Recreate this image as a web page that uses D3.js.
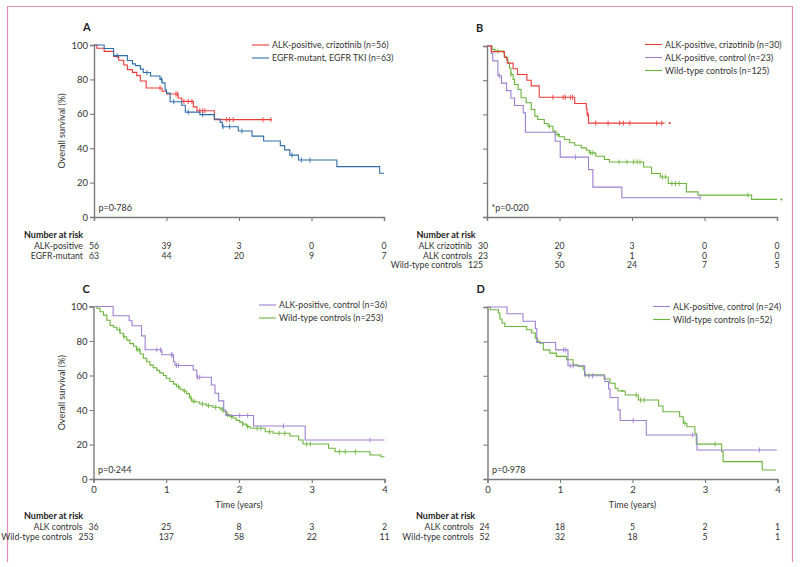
<!DOCTYPE html>
<html><head><meta charset="utf-8">
<script src="https://cdn.jsdelivr.net/npm/d3@7"></script>
<style>
body{margin:0;background:#fff;}
svg text{font-family:Lato,"Open Sans",sans-serif;fill:#333;}
</style></head><body>
<svg id="c" width="800" height="567"></svg>
<script>
// ---------- DATA (time in years, survival in %) ----------
const timeTicks = [0, 1, 2, 3, 4];
const survTicks = [0, 20, 40, 60, 80, 100];

// Panel A
const A_alkCriz = [[0,100],[0.04,98.1],[0.14,96.3],[0.27,93.4],[0.34,91.1],[0.41,88.4],[0.46,85.7],[0.53,84.1],[0.59,82.2],[0.64,79.1],[0.72,75.0],[0.94,73.1],[1.00,71.5],[1.16,69.2],[1.21,67.2],[1.37,64.0],[1.42,61.8],[1.66,56.6]];
const A_alkCrizEnd = 2.45;
const A_alkCrizCens = [0.91,1.13,1.15,1.24,1.30,1.35,1.46,1.50,1.53,1.83,1.87,1.92,2.33,2.44];
const A_egfr = [[0,100],[0.14,98],[0.27,93.8],[0.46,91],[0.53,89],[0.57,88],[0.64,86],[0.68,84],[0.78,82],[0.91,80],[0.94,78],[0.98,74],[1.00,72],[1.05,67],[1.21,65],[1.26,61],[1.46,59.5],[1.66,57],[1.74,55],[1.77,52.5],[1.99,50],[2.18,47],[2.34,44.2],[2.57,41.5],[2.63,39],[2.70,36],[2.82,33.1],[3.35,29.3],[3.94,25.4]];
const A_egfrEnd = 4.0;
const A_egfrCens = [0.32,0.73,0.93,1.10,1.30,1.50,1.78,1.87,2.04,2.73,2.86,2.98];

// Panel B
const B_alkCriz = [[0,100],[0.06,96.7],[0.24,93.3],[0.28,90],[0.36,86.7],[0.42,83.3],[0.55,80],[0.61,76.7],[0.72,70],[1.21,66.4],[1.37,63.3],[1.38,60],[1.40,54.9]];
const B_alkCrizEnd = 2.45;
const B_alkCrizCens = [0.91,1.05,1.08,1.15,1.18,1.39,1.50,1.67,1.83,1.88,1.97,2.34,2.41];
const B_alkCrizDot = [2.52];
const B_alkCtrl = [[0,100],[0.06,95.7],[0.08,91.3],[0.15,82.6],[0.20,78.3],[0.27,73.9],[0.33,69.6],[0.38,65.2],[0.50,60.9],[0.53,49.6],[0.94,44.3],[1.01,35],[1.40,27.7],[1.46,17.5],[1.86,11.3]];
const B_alkCtrlEnd = 2.94;
const B_alkCtrlCens = [0.17,1.22,2.94];
const B_wild = [[0,100],[0.07,98],[0.11,97],[0.23,96],[0.24,94],[0.27,92],[0.29,90],[0.31,87],[0.33,83.4],[0.36,80.5],[0.38,77.5],[0.43,74.6],[0.47,69.7],[0.54,66.8],[0.61,62.9],[0.66,59],[0.70,57],[0.79,54.7],[0.84,53.1],[0.91,50.2],[0.95,48.2],[1.00,46.9],[1.07,45.3],[1.14,43.4],[1.21,42],[1.30,40.4],[1.37,39],[1.41,37.5],[1.50,35.5],[1.62,33.6],[1.69,32.2],[2.16,29.2],[2.27,25.4],[2.39,23.4],[2.50,19.6],[2.75,14.7],[2.91,12.8],[3.65,10.3]];
const B_wildEnd = 4.0;
const B_wildCens = [0.15,0.33,0.86,0.98,1.43,1.46,1.82,1.93,2.02,2.07,2.11,2.42,2.46,2.55,2.60,2.65,3.60];
const B_wildDot = [4.06];

// Panel C
const C_alkCtrl = [[0,100],[0.27,94.6],[0.49,91.7],[0.53,88.8],[0.66,83],[0.71,74.9],[0.94,72],[1.10,68],[1.12,65.8],[1.37,63.2],[1.42,59],[1.62,54.5],[1.67,49.7],[1.72,45.3],[1.79,40],[1.82,36.8],[2.20,30.7],[2.91,22.6]];
const C_alkCtrlEnd = 4.0;
const C_alkCtrlCens = [0.87,0.92,1.07,1.08,1.14,1.17,1.43,1.46,2.01,2.12,2.61,3.80];
const C_wild = [[0,100],[0.046,99],[0.091,97],[0.137,95],[0.183,92],[0.228,89],[0.274,88],[0.32,86.5],[0.365,84.5],[0.41,82.5],[0.457,80.5],[0.50,78.5],[0.55,77],[0.59,75],[0.64,72.5],[0.685,70],[0.73,68],[0.776,66],[0.82,64.5],[0.87,63],[0.91,61.5],[0.96,60],[1.0,58.4],[1.05,56.5],[1.10,55],[1.14,53.5],[1.19,52],[1.23,51],[1.28,49.5],[1.32,47],[1.35,45],[1.40,44.6],[1.46,43.5],[1.55,42.5],[1.64,41.6],[1.74,40.5],[1.78,39],[1.83,37.3],[1.87,36.2],[1.92,35.4],[1.96,34],[2.01,33],[2.05,31.8],[2.10,30.4],[2.15,29.6],[2.20,29.4],[2.36,27.4],[2.47,26.5],[2.70,24.9],[2.82,22.6],[2.88,20.3],[3.23,17.8],[3.32,15.8],[3.80,13.9],[3.95,12.9]];
const C_wildEnd = 4.0;
const C_wildCens = [0.36,0.42,0.60,0.63,1.17,1.25,1.34,1.38,1.50,1.58,1.68,1.77,1.84,1.90,2.05,2.12,2.25,2.30,2.42,2.55,2.63,2.93,2.98,3.38,3.46,3.60];

// Panel D
const D_alkCtrl = [[0,100],[0.27,96.1],[0.49,91.7],[0.66,87.5],[0.68,79.4],[0.94,75.1],[1.11,65.8],[1.34,60],[1.62,56.7],[1.67,52.4],[1.69,47.4],[1.80,40.2],[1.83,34.0],[2.19,25.6],[2.89,16.9]];
const D_alkCtrlEnd = 3.99;
const D_alkCtrlCens = [1.05,1.08,1.14,1.18,1.40,1.45,2.01,2.83,3.75];
const D_wild = [[0,100],[0.04,98.4],[0.15,96.5],[0.17,93],[0.20,90.7],[0.24,88.7],[0.54,86.8],[0.61,84.9],[0.66,81.9],[0.69,80],[0.72,79],[0.77,75.1],[0.86,73.2],[0.95,71.3],[1.09,69.3],[1.18,66.4],[1.25,65.4],[1.32,63.5],[1.34,60.6],[1.61,58.1],[1.69,55.7],[1.76,52.8],[1.80,51.2],[1.90,48.8],[2.08,45.9],[2.36,42.4],[2.42,39.1],[2.65,36.2],[2.70,32.4],[2.75,30.4],[2.86,26.6],[2.88,20.3],[3.23,15.9],[3.25,10.1],[3.79,5.2]];
const D_wildEnd = 3.98;
const D_wildCens = [1.35,2.05,2.11,2.16,2.72,3.14];
const D_wildDot = [1.86];

// Legends and risk tables
const legA = ["ALK-positive, crizotinib (n=56)", "EGFR-mutant, EGFR TKI (n=63)"];
const legB = ["ALK-positive, crizotinib (n=30)", "ALK-positive, control (n=23)", "Wild-type controls (n=125)"];
const legC = ["ALK-positive, control (n=36)", "Wild-type controls (n=253)"];
const legD = ["ALK-positive, control (n=24)", "Wild-type controls (n=52)"];
const riskLabelsA = ["ALK-positive", "EGFR-mutant"];
const riskA = [[56,39,3,0,0],[63,44,20,9,7]];
const riskLabelsB = ["ALK crizotinib", "ALK controls", "Wild-type controls"];
const riskB = [[30,20,3,0,0],[23,9,1,0,0],[125,50,24,7,5]];
const riskLabelsC = ["ALK controls", "Wild-type controls"];
const riskC = [[36,25,8,3,2],[253,137,58,22,11]];
const riskLabelsD = ["ALK controls", "Wild-type controls"];
const riskD = [[24,18,5,2,1],[52,32,18,5,1]];
const pA = "p=0·786", pB = "*p=0·020", pC = "p=0·244", pD = "p=0·978";

// ---------- STYLE ----------
const RED = "#ec3b3b", BLUE = "#2f6eaa", PURPLE = "#9c80d2", GREEN = "#6cb43c";
const AXIS = "#7a7a7a";
const FS = "8.7px";

const svg = d3.select("#c");
// pink frame
svg.append("path").attr("d","M7.5,562 V6.5 H792.5 V562").attr("fill","none").attr("stroke","#e58bb8").attr("stroke-width",1.2);

function sAt(steps, t){ let s = 100; for (const [tt,v] of steps) if (tt <= t) s = v; return s; }

const panels = [
  {letter:"A", x0:94, x1:384, yT:45, yB:217, ylab:true, xlab:false, p:pA,
   series:[{d:A_alkCriz,end:A_alkCrizEnd,c:A_alkCrizCens,col:RED},{d:A_egfr,end:A_egfrEnd,c:A_egfrCens,col:BLUE}],
   leg:legA, legCols:[RED,BLUE], legX:252, legY:45,
   riskLabels:riskLabelsA, risk:riskA, riskTitleX:24, riskY:238, firstShift:0},
  {letter:"B", x0:487, x1:777, yT:46, yB:217, ylab:false, xlab:false, p:pB,
   series:[{d:B_wild,end:B_wildEnd,c:B_wildCens,col:GREEN,dots:B_wildDot},{d:B_alkCtrl,end:B_alkCtrlEnd,c:B_alkCtrlCens,col:PURPLE},{d:B_alkCriz,end:B_alkCrizEnd,c:B_alkCrizCens,col:RED,dots:B_alkCrizDot}],
   leg:legB, legCols:[RED,PURPLE,GREEN], legX:645, legY:44.5,
   riskLabels:riskLabelsB, risk:riskB, riskTitleX:416.5, riskY:238, firstShift:-4},
  {letter:"C", x0:93.5, x1:384.5, yT:306.5, yB:479, ylab:true, xlab:true, p:pC,
   series:[{d:C_wild,end:C_wildEnd,c:C_wildCens,col:GREEN},{d:C_alkCtrl,end:C_alkCtrlEnd,c:C_alkCtrlCens,col:PURPLE}],
   leg:legC, legCols:[PURPLE,GREEN], legX:259, legY:305,
   riskLabels:riskLabelsC, risk:riskC, riskTitleX:24, riskY:519, firstShift:0},
  {letter:"D", x0:487.5, x1:777.5, yT:307, yB:479, ylab:false, xlab:true, p:pD,
   series:[{d:D_wild,end:D_wildEnd,c:D_wildCens,col:GREEN,dots:D_wildDot},{d:D_alkCtrl,end:D_alkCtrlEnd,c:D_alkCtrlCens,col:PURPLE}],
   leg:legD, legCols:[PURPLE,GREEN], legX:653, legY:306.5,
   riskLabels:riskLabelsD, risk:riskD, riskTitleX:416, riskY:519, firstShift:-3}
];

panels.forEach(P => {
  const x = d3.scaleLinear().domain([0,4]).range([P.x0, P.x1]);
  const y = d3.scaleLinear().domain([0,100]).range([P.yB, P.yT]);
  const g = svg.append("g");

  // axes
  const ya = g.append("g").attr("transform",`translate(${P.x0},0)`)
    .call(d3.axisLeft(y).tickValues(survTicks).tickSize(4).tickPadding(2)
      .tickFormat(P.ylab ? d3.format("d") : () => ""));
  const xa = g.append("g").attr("transform",`translate(0,${P.yB})`)
    .call(d3.axisBottom(x).tickValues(timeTicks).tickSize(4).tickPadding(3)
      .tickFormat(P.xlab ? d3.format("d") : () => ""));
  [ya, xa].forEach(a => {
    a.select(".domain").attr("stroke",AXIS).attr("stroke-width",1.4);
    a.selectAll(".tick line").attr("stroke",AXIS).attr("stroke-width",1.1);
    a.selectAll(".tick text").attr("fill","#333").style("font-size","9.5px").style("font-family","Lato, sans-serif");
  });

  if (P.ylab) {
    g.append("text").attr("transform",`translate(${P.x0-29},${(P.yT+P.yB)/2}) rotate(-90)`)
      .attr("text-anchor","middle").style("font-size","9px").text("Overall survival (%)");
  }
  if (P.xlab) {
    g.append("text").attr("x",(P.x0+P.x1)/2).attr("y",P.yB+29).attr("text-anchor","middle")
      .style("font-size","9px").text("Time (years)");
  }
  // panel letter
  g.append("text").attr("x",P.x0-11).attr("y",P.yT-14).style("font-size","11px").style("font-weight","bold")
    .style("fill","#222").text(P.letter);
  // p value
  g.append("text").attr("x",P.x0+4.5).attr("y",P.yB-6).style("font-size","9px").text(P.p);

  // curves
  const line = d3.line().x(d => x(d[0])).y(d => y(d[1])).curve(d3.curveStepAfter);
  P.series.forEach(S => {
    const pts = S.d.concat([[S.end, S.d[S.d.length-1][1]]]);
    g.append("path").attr("d", line(pts)).attr("fill","none").attr("stroke",S.col).attr("stroke-width",1.1);
    g.selectAll(null).data(S.c).join("line")
      .attr("x1", t => x(t)).attr("x2", t => x(t))
      .attr("y1", t => y(sAt(S.d,t)) - 2.5).attr("y2", t => y(sAt(S.d,t)) + 2.5)
      .attr("stroke", S.col).attr("stroke-width",0.9);
    if (S.dots) g.selectAll(null).data(S.dots).join("circle")
      .attr("cx", t => x(t)).attr("cy", t => y(sAt(S.d,t))).attr("r",1.1).attr("fill",S.col);
  });

  // legend
  P.leg.forEach((txt,i) => {
    const yy = P.legY + i*13;
    g.append("line").attr("x1",P.legX).attr("x2",P.legX+17).attr("y1",yy).attr("y2",yy)
      .attr("stroke",P.legCols[i]).attr("stroke-width",1.1);
    g.append("text").attr("x",P.legX+20).attr("y",yy+3.2).style("font-size","8.8px").text(txt);
  });

  // risk table
  g.append("text").attr("x",P.riskTitleX).attr("y",P.riskY).style("font-size","9px").style("font-weight","bold")
    .style("fill","#222").text("Number at risk");
  P.risk.forEach((row,i) => {
    const yy = P.riskY + 11 + i*9.5;
    const nums = g.selectAll(null).data(row).join("text")
      .attr("x",(v,j) => x(timeTicks[j]) + (j === 0 ? P.firstShift : 0)).attr("y",yy)
      .attr("text-anchor",(v,j) => (j === 0 && v >= 100) ? "end" : "middle")
      .style("font-size",FS).text(v => v);
    // label placed just left of first number
    const bb = nums.nodes()[0].getBBox();
    g.append("text").attr("x",bb.x - 6).attr("y",yy).attr("text-anchor","end").style("font-size",FS).text(P.riskLabels[i]);
  });
});
</script></body></html>
